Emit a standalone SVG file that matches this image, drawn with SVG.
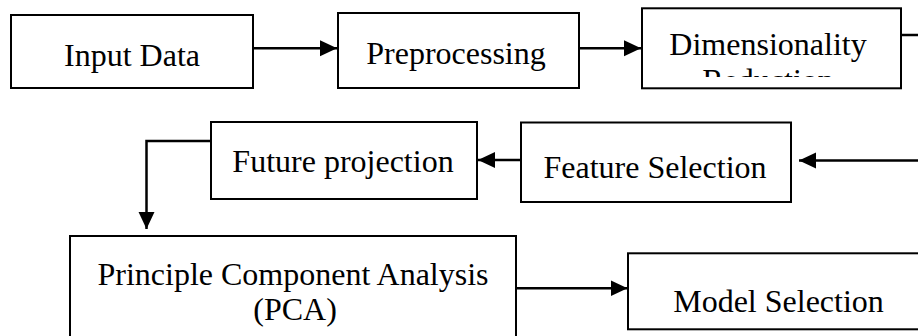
<svg xmlns="http://www.w3.org/2000/svg" width="918" height="336" viewBox="0 0 918 336">
<style>
.box{fill:#fff;stroke:#000;stroke-width:2}
.t{font-family:"Liberation Serif","Times New Roman",serif;font-size:32px;fill:#000;text-anchor:middle}
.c{fill:none;stroke:#000;stroke-width:2.5}
</style>
<defs>
<marker id="ah" markerUnits="userSpaceOnUse" markerWidth="17" markerHeight="17" viewBox="0 0 16 16" refX="16" refY="8" orient="auto">
<path d="M0,0.5 L16,8 L0,15.5 Z" fill="#000"/>
</marker>
<clipPath id="dimclip"><rect x="643" y="9" width="257" height="68"/></clipPath>
</defs>
<rect width="918" height="336" fill="#fff"/>
<g id="connectors">
<line class="c" x1="253" y1="48.3" x2="337" y2="48.3" marker-end="url(#ah)"/>
<line class="c" x1="579" y1="48.3" x2="641" y2="48.3" marker-end="url(#ah)"/>
<line class="c" x1="901" y1="35" x2="920" y2="35"/>
<line class="c" x1="920" y1="160.5" x2="799" y2="160.5" marker-end="url(#ah)"/>
<line class="c" x1="521" y1="160" x2="478" y2="160" marker-end="url(#ah)"/>
<polyline class="c" points="211,141 146.5,141 146.5,229" marker-end="url(#ah)"/>
<line class="c" x1="516" y1="288.3" x2="627.5" y2="288.3" marker-end="url(#ah)"/>
</g>
<g id="input-data">
<rect class="box" x="11" y="15" width="242" height="73"/>
<text class="t" x="132" y="66">Input Data</text>
</g>
<g id="preprocessing">
<rect class="box" x="338" y="13" width="241" height="75"/>
<text class="t" x="456" y="64">Preprocessing</text>
</g>
<g id="dimensionality-reduction">
<rect class="box" x="642" y="8.3" width="259" height="80"/>
<g clip-path="url(#dimclip)">
<text class="t" x="768" y="55">Dimensionality</text>
<text class="t" x="768" y="91">Reduction</text>
</g>
</g>
<g id="future-projection">
<rect class="box" x="211" y="122" width="266" height="77"/>
<text class="t" x="343" y="172">Future projection</text>
</g>
<g id="feature-selection">
<rect class="box" x="521" y="122.5" width="270" height="79.5"/>
<text class="t" x="655" y="178">Feature Selection</text>
</g>
<g id="pca">
<rect class="box" x="70" y="236" width="446" height="110"/>
<text class="t" x="293" y="285">Principle Component Analysis</text>
<text class="t" x="295" y="320">(PCA)</text>
</g>
<g id="model-selection">
<rect class="box" x="628" y="253.3" width="302" height="76"/>
<text class="t" x="778.5" y="312">Model Selection</text>
</g>
</svg>
